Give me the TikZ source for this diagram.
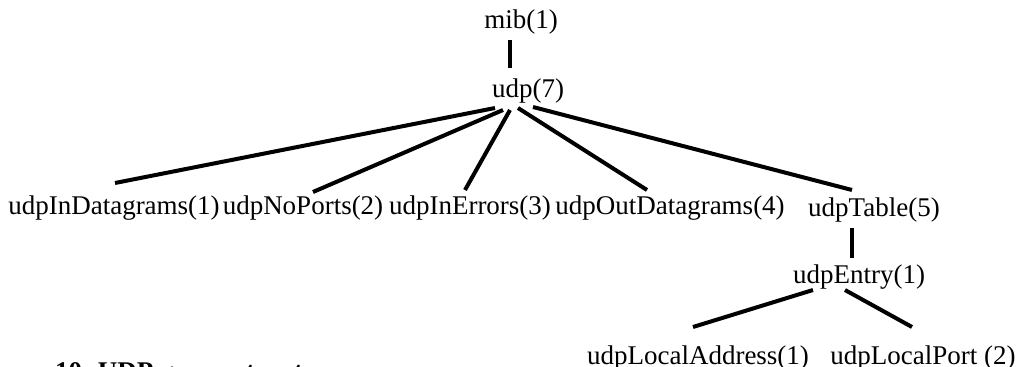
\documentclass[tikz,border=0pt]{standalone}
\usepackage{fontspec}
\setmainfont{Liberation Serif}
\begin{document}
\begin{tikzpicture}[x=1pt,y=-1pt,
  lbl/.style={inner sep=0pt,font=\fontsize{27}{30}\selectfont},
  edge/.style={line width=4pt}]
\useasboundingbox (0,0) rectangle (1018,367);
\clip (0,0) rectangle (1018,367);
% tree nodes
\node[lbl] (mib) at (521,22) {mib(1)};
\node[lbl] (udp) at (528,91) {udp(7)};
\node[lbl] (c1) at (114,208) {udpInDatagrams(1)};
\node[lbl] (c2) at (303,208) {udpNoPorts(2)};
\node[lbl] (c3) at (470,208) {udpInErrors(3)};
\node[lbl] (c4) at (670,208) {udpOutDatagrams(4)};
\node[lbl] (c5) at (874,210) {udpTable(5)};
\node[lbl] (entry) at (859,277) {udpEntry(1)};
\node[lbl] (la) at (698,358) {udpLocalAddress(1)};
\node[lbl] (lp) at (923,358) {udpLocalPort (2)};
% caption
\node[lbl,anchor=base west,font=\fontsize{27}{30}\selectfont\bfseries] (cap) at (55,380) {10. UDP group structure};
% connectors
\draw[edge] ([shift={(-11,18)}]mib.center) -- ([shift={(-18,-23)}]udp.center);
\draw[edge] ([shift={(-33,17)}]udp.center) -- ([shift={(1,-25)}]c1.center);
\draw[edge] ([shift={(-25,19)}]udp.center) -- ([shift={(10,-16)}]c2.center);
\draw[edge] ([shift={(-18,19)}]udp.center) -- ([shift={(-5,-18)}]c3.center);
\draw[edge] ([shift={(-10,17)}]udp.center) -- ([shift={(-23,-18)}]c4.center);
\draw[edge] ([shift={(5,16)}]udp.center) -- ([shift={(-22,-20)}]c5.center);
\draw[edge] ([shift={(-22,18)}]c5.center) -- ([shift={(-7,-19)}]entry.center);
\draw[edge] ([shift={(-46,13)}]entry.center) -- ([shift={(-5,-31)}]la.center);
\draw[edge] ([shift={(-14,13)}]entry.center) -- ([shift={(-11,-31)}]lp.center);
\end{tikzpicture}
\end{document}
